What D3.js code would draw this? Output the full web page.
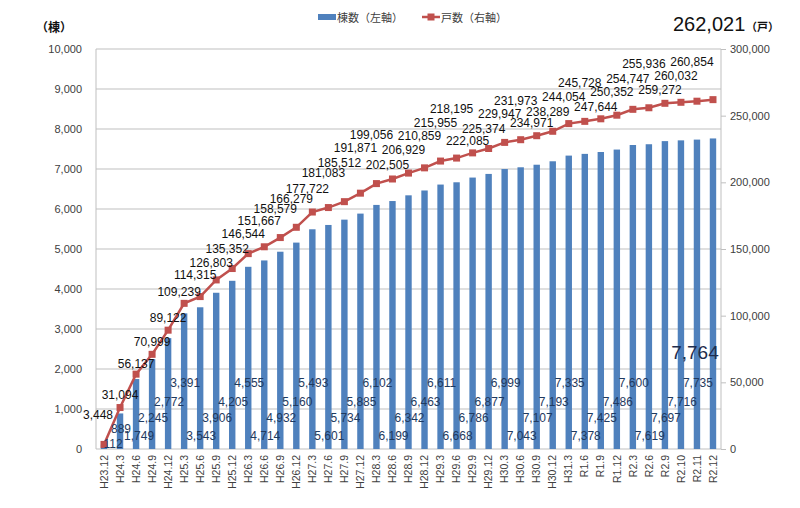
<!DOCTYPE html>
<html><head><meta charset="utf-8">
<script src="https://cdn.jsdelivr.net/npm/d3@7"></script>
<style>
html,body{margin:0;padding:0;background:#fff;}
svg{display:block;font-family:"Liberation Sans",Arial,sans-serif;}
</style></head>
<body>
<svg id="c" width="800" height="508"></svg>
<script>
const categories = ["H23.12","H24.3","H24.6","H24.9","H24.12","H25.3","H25.6","H25.9","H25.12","H26.3","H26.6","H26.9","H26.12","H27.3","H27.6","H27.9","H27.12","H28.3","H28.6","H28.9","H28.12","H29.3","H29.6","H29.9","H29.12","H30.3","H30.6","H30.9","H30.12","H31.3","R1.6","R1.9","R1.12","R2.3","R2.6","R2.9","R2.10","R2.11","R2.12"];
const buildings = [112,889,1749,2245,2772,3391,3543,3906,4205,4555,4714,4932,5160,5493,5601,5734,5885,6102,6199,6342,6463,6611,6668,6786,6877,6999,7043,7107,7193,7335,7378,7425,7486,7600,7619,7697,7716,7735,7764];
const households = [3448,31094,56137,70999,89122,109239,114315,126803,135352,146544,151667,158579,166279,177722,181083,185512,191871,199056,202505,206929,210859,215955,218195,222085,225374,229947,231973,234971,238289,244054,245728,247644,250352,254747,255936,259272,260032,260854,262021];
const leftTicks = [0,1000,2000,3000,4000,5000,6000,7000,8000,9000,10000];
const rightTicks = [0,50000,100000,150000,200000,250000,300000];
const seriesNames = ["棟数（左軸）","戸数（右軸）"];

// label layout (staggering of the data labels, pixels relative to the point)
const lineLabelDy = [-29,-13,-10,-12,-12,-11,-22,-17,-20,-20,-26,-29,-28,-23,-35,-39,-45,-49,-14,-23,-32,-38,-49,-12,-20,-28,-39,-13,-19,-27,-38,-12,-23,-30,-44,-13,-26,-39];
const barLabelLevels = [325,775,1175,1650]; // left-axis units where stacked bar labels sit

const svg = d3.select("#c");
const L = 96, R = 721, T = 49, B = 449;
const fmt = d3.format(",");
const x = d3.scaleBand().domain(categories).range([L,R]).paddingInner(0.6).paddingOuter(0.3);
const yL = d3.scaleLinear().domain([0,10000]).range([B,T]);
const yR = d3.scaleLinear().domain([0,300000]).range([B,T]);
const cx = c => x(c) + x.bandwidth()/2;

// gridlines
svg.append("g").selectAll("line").data(leftTicks).join("line")
  .attr("x1",L).attr("x2",R).attr("y1",d=>yL(d)).attr("y2",d=>yL(d))
  .attr("stroke","#bfbfbf").attr("stroke-width",1);
svg.append("line").attr("x1",L).attr("x2",L).attr("y1",T).attr("y2",B).attr("stroke","#bfbfbf");
svg.append("line").attr("x1",R).attr("x2",R).attr("y1",T).attr("y2",B).attr("stroke","#bfbfbf");

// axes
const gl = svg.append("g").attr("transform",`translate(${L},0)`)
  .call(d3.axisLeft(yL).tickValues(leftTicks).tickFormat(fmt).tickSize(0).tickPadding(14));
gl.select(".domain").remove();
gl.selectAll("text").attr("font-size",11).attr("fill","#404040").attr("font-family","Liberation Sans, Arial, sans-serif");

const gr = svg.append("g").attr("transform",`translate(${R},0)`)
  .call(d3.axisRight(yR).tickValues(rightTicks).tickFormat(fmt).tickSize(5).tickPadding(4));
gr.select(".domain").remove();
gr.selectAll("line").attr("stroke","#bfbfbf");
gr.selectAll("text").attr("font-size",11).attr("fill","#404040").attr("font-family","Liberation Sans, Arial, sans-serif");

const gx = svg.append("g").attr("transform",`translate(0,${B})`)
  .call(d3.axisBottom(x).tickSize(0));
gx.select(".domain").remove();
gx.selectAll("text").attr("transform","rotate(-90)").attr("text-anchor","end")
  .attr("x",-6).attr("y",0).attr("dy","0.35em")
  .attr("font-size",10.5).attr("fill","#404040").attr("font-family","Liberation Sans, Arial, sans-serif");

// bars
svg.append("g").selectAll("rect").data(categories).join("rect")
  .attr("x",d=>x(d)).attr("width",x.bandwidth())
  .attr("y",(d,i)=>yL(buildings[i])).attr("height",(d,i)=>B-yL(buildings[i]))
  .attr("fill","#4f81bd");

// line
const line = d3.line().x((d,i)=>cx(categories[i])).y(d=>yR(d));
svg.append("path").datum(households).attr("d",line)
  .attr("fill","none").attr("stroke","#c0504d").attr("stroke-width",2.5);
svg.append("g").selectAll("rect").data(households).join("rect")
  .attr("x",(d,i)=>cx(categories[i])-3.5).attr("y",d=>yR(d)-3.5)
  .attr("width",7).attr("height",7).attr("fill","#c0504d");

// bar labels
const barLabelY = i => {
  if (i===0) return yL(125);
  if (i===1) return yL(500);
  return yL(barLabelLevels[(i-2)%4]);
};
svg.append("g").selectAll("text").data(buildings.slice(0,-1)).join("text")
  .attr("x",(d,i)=>cx(categories[i]) + (i===0?9:(i===2?3:1)))
  .attr("y",(d,i)=>barLabelY(i))
  .attr("text-anchor","middle").attr("dominant-baseline","central")
  .attr("font-size",12).attr("fill","#1f3a60").text(d=>fmt(d));
const lastI = buildings.length-1;
svg.append("text").attr("x",cx(categories[lastI])-18).attr("y",yL(2425))
  .attr("text-anchor","middle").attr("dominant-baseline","central")
  .attr("font-size",19).attr("fill","#1f2d4d").text(fmt(buildings[lastI]));

// line labels
svg.append("g").selectAll("text").data(households.slice(0,-1)).join("text")
  .attr("x",(d,i)=>cx(categories[i]) + (i===0?-6:(i<5?0:-5)))
  .attr("y",(d,i)=>yR(d)+lineLabelDy[i])
  .attr("text-anchor","middle").attr("dominant-baseline","central")
  .attr("font-size",12).attr("fill","#111").text(d=>fmt(d));
svg.append("text").attr("x",673).attr("y",31).attr("font-size",20).attr("fill","#111")
  .text(fmt(households[households.length-1]));
svg.append("text").attr("x",746).attr("y",31).attr("font-size",11).attr("font-weight","bold")
  .attr("font-family","Noto Sans CJK JP").attr("fill","#111").text("（戸）");

// unit label left
svg.append("text").attr("x",36).attr("y",32).attr("font-size",12).attr("font-weight","bold")
  .attr("font-family","Noto Sans CJK JP").attr("fill","#111").text("（棟）");

// legend
const lg = svg.append("g");
lg.append("rect").attr("x",318).attr("y",14).attr("width",18).attr("height",6).attr("fill","#4f81bd");
lg.append("text").attr("x",337).attr("y",17).attr("dominant-baseline","central")
  .attr("font-size",11).attr("font-family","Noto Sans CJK JP").attr("fill","#404040").text(seriesNames[0]);
lg.append("line").attr("x1",422).attr("x2",440).attr("y1",17).attr("y2",17).attr("stroke","#c0504d").attr("stroke-width",2.5);
lg.append("rect").attr("x",427.5).attr("y",13.5).attr("width",7).attr("height",7).attr("fill","#c0504d");
lg.append("text").attr("x",441).attr("y",17).attr("dominant-baseline","central")
  .attr("font-size",11).attr("font-family","Noto Sans CJK JP").attr("fill","#404040").text(seriesNames[1]);
</script>
</body></html>
